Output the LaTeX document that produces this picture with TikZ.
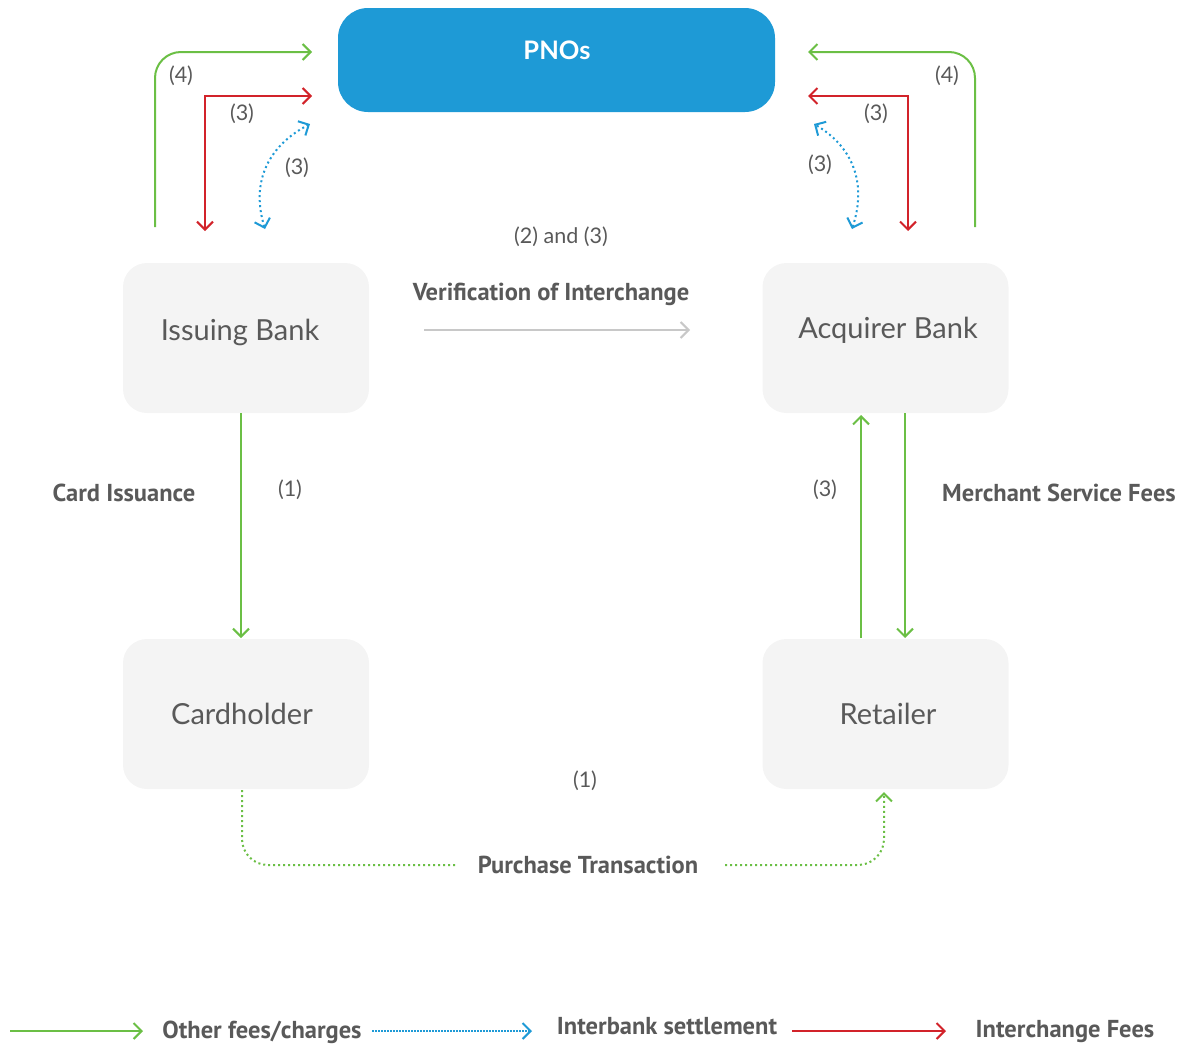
\documentclass[tikz,border=0pt]{standalone}
\usepackage{fontspec}
\setmainfont{Lato}
\newfontfamily\lblfont{PT Sans}
\usetikzlibrary{arrows.meta}
\definecolor{cgreen}{HTML}{6BBF45}
\definecolor{cred}{HTML}{D2232A}
\definecolor{cblue}{HTML}{1E9AD6}
\definecolor{cbox}{HTML}{F4F4F4}
\definecolor{ctext}{HTML}{595959}
\definecolor{cgray}{HTML}{C8C8C8}
\tikzset{
  box/.style={draw=none,fill=cbox,rounded corners=24pt,minimum width=246pt,minimum height=150pt,inner sep=0pt},
  boxtext/.style={font=\fontsize{29}{33}\selectfont,text=ctext},
  lbl/.style={font=\lblfont\bfseries\fontsize{24.5}{28}\selectfont,text=ctext,inner sep=0pt},
  num/.style={font=\fontsize{21.5}{25}\selectfont,text=ctext,inner sep=0pt},
  tip/.style={-{Straight Barb[length=8pt,width=16pt,line width=2pt]}},
  tips/.style={{Straight Barb[length=8pt,width=16pt,line width=2pt]}-{Straight Barb[length=8pt,width=16pt,line width=2pt]}},
  gline/.style={draw=cgreen,line width=2pt},
  rline/.style={draw=cred,line width=2pt},
  bdot/.style={draw=cblue,line width=2pt,dash pattern=on 2pt off 3pt},
  gdot/.style={draw=cgreen,line width=2pt,dash pattern=on 2pt off 3pt},
}
\begin{document}
\begin{tikzpicture}[x=1pt,y=-1pt]
\useasboundingbox (0,0) rectangle (1189,1047);
% boxes
\node[fill=cblue,rounded corners=30pt,minimum width=437pt,minimum height=104pt,inner sep=0pt] (pno) at (556.5,60) {};
\node[font=\bfseries\fontsize{25.5}{30}\selectfont,text=white] (pnot) at (557,50) {PNOs};
\node[box] (ib) at (246,338) {};
\node[boxtext] (ibt) at (240,332) {Issuing Bank};
\node[box] (ab) at (885.5,338) {};
\node[boxtext] (abt) at (888,330) {Acquirer Bank};
\node[box] (ch) at (246,714) {};
\node[boxtext] (cht) at (242,714) {Cardholder};
\node[box] (rt) at (885.5,714) {};
\node[boxtext] (rtt) at (888,714) {Retailer};

% coordinates
\coordinate (lg0) at (155,227); \coordinate (lg1) at (312,52);
\coordinate (lr0) at (312,96); \coordinate (lr1) at (205,231);
\coordinate (lb0) at (265,229); \coordinate (lb1) at (310,124);
\coordinate (rg0) at (975,227); \coordinate (rg1) at (808,52);
\coordinate (rr0) at (808,96); \coordinate (rr1) at (908,231);
\coordinate (rb0) at (852,229); \coordinate (rb1) at (814,124);

% top-left arrows
\draw[gline,tip,rounded corners=26pt] (lg0) |- (lg1);
\draw[rline,tips] (lr0) -| (lr1);
\draw[bdot,tips] (lb0) .. controls (250,180) and (270,145) .. (lb1);
% top-right arrows
\draw[gline,tip,rounded corners=26pt] (rg0) |- (rg1);
\draw[rline,tips] (rr0) -| (rr1);
\draw[bdot,tips] (rb0) .. controls (868,180) and (850,145) .. (rb1);

\node[num] (n4l) at (181,76) {(4)};
\node[num] (n3l) at (242,114) {(3)};
\node[num] (n3lb) at (297,168) {(3)};
\node[num] (n4r) at (947,76) {(4)};
\node[num] (n3r) at (876,114) {(3)};
\node[num] (n3rb) at (820,165) {(3)};

% verification
\node[num] (n23) at (561,237) {(2) and (3)};
\node[lbl] (ver) at (551,294) {Verification of Interchange};
\coordinate (v0) at (424,330); \coordinate (v1) at (690,330);
\draw[draw=cgray,line width=2pt,-{Straight Barb[length=8pt,width=16pt,line width=2pt]}] (v0) -- (v1);

% card issuance
\draw[gline,tip] (241,413) -- (241,638);
\node[lbl] (ci) at (124,493) {Card Issuance};
\node[num] (n1a) at (290,490) {(1)};

% acquirer-retailer
\draw[gline,tip] (861,638) -- (861,415);
\draw[gline,tip] (905,413) -- (905,638);
\node[num] (n3m) at (825,490) {(3)};
\node[lbl] (msf) at (1059,493) {Merchant Service Fees};

% purchase
\node[num] (n1b) at (585,781) {(1)};
\node[lbl] (pt) at (588,865) {Purchase Transaction};
\coordinate (p0) at (242,790); \coordinate (p1) at (455,865);
\coordinate (p2) at (725,865); \coordinate (p3) at (884,792);
\draw[gdot,rounded corners=26pt] (p0) |- (p1);
\draw[gdot,rounded corners=26pt,-{Straight Barb[length=8pt,width=16pt,line width=2pt]}] (p2) -| (p3);

% legend
\coordinate (l0) at (10,1031); \coordinate (l1) at (143,1031);
\draw[gline,tip] (l0) -- (l1);
\node[lbl] (lt1) at (262,1032) {Other fees/charges};
\coordinate (l2) at (372,1031); \coordinate (l3) at (532,1031);
\draw[draw=cblue,line width=2pt,dash pattern=on 1.5pt off 1.5pt] (l2) -- ([xshift=-2pt]l3);
\draw[draw=cblue,line width=2pt,-{Straight Barb[length=8pt,width=16pt,line width=2pt]}] ([xshift=-3pt]l3) -- (l3);
\node[lbl] (lt2) at (667,1026) {Interbank settlement};
\coordinate (l4) at (792,1031); \coordinate (l5) at (946,1031);
\draw[rline,tip] (l4) -- (l5);
\node[lbl] (lt3) at (1065,1032) {Interchange Fees};
\end{tikzpicture}
\end{document}
